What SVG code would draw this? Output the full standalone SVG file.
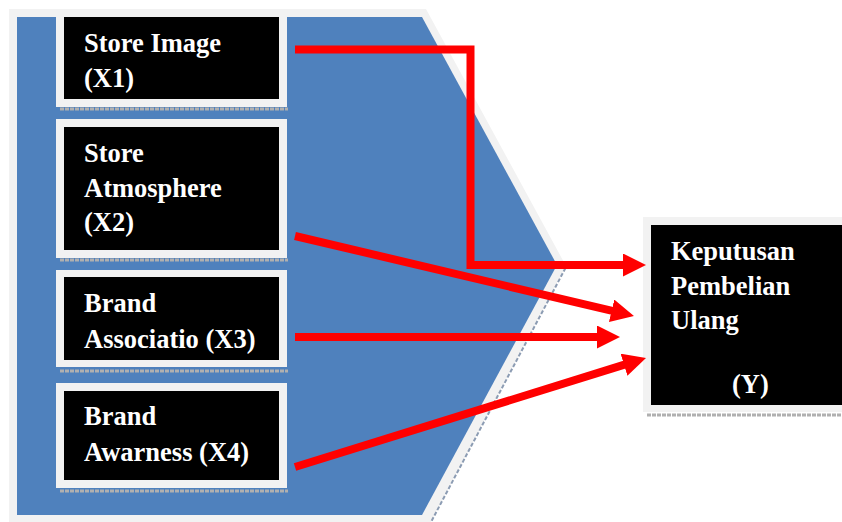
<svg xmlns="http://www.w3.org/2000/svg" width="842" height="522" viewBox="0 0 842 522">
<defs>
<style>
.lbl{font-family:"Liberation Serif","Times New Roman",serif;font-weight:bold;font-size:26.5px;fill:#ffffff}
.frame{fill:#f2f2f2}
.box{fill:#000000}
.shadow{stroke:#b0b0b0;stroke-width:3;stroke-dasharray:4 1;fill:none}
.conn{stroke:#ff0000;stroke-width:8;fill:none;marker-end:url(#ah)}
</style>
<marker id="ah" markerUnits="userSpaceOnUse" markerWidth="24" markerHeight="24" refX="3" refY="11.5" orient="auto">
<path d="M0,0 L23,11.5 L0,23 z" fill="#ff0000"/>
</marker>
</defs>
<rect width="842" height="522" fill="#ffffff"/>
<g id="chevron">
<polygon points="9,9 426,9 566,266 431,522 9,522" fill="#f2f2f2"/>
<polygon points="17,17 422,17 557,265 422,515 17,515" fill="#4f81bd"/>
<line x1="565.5" y1="268" x2="431" y2="522" stroke="#8c9cb3" stroke-width="2" stroke-dasharray="4 2"/>
</g>
<g id="x1">
<rect class="frame" x="56" y="15" width="231" height="92"/>
<rect class="box" x="64" y="17" width="215" height="82"/>
<line class="shadow" x1="60" y1="109" x2="288" y2="109"/>
<text class="lbl" x="84" y="52">Store Image</text>
<text class="lbl" x="84" y="87">(X1)</text>
</g>
<g id="x2">
<rect class="frame" x="56" y="119" width="231" height="139"/>
<rect class="box" x="64" y="127" width="215" height="123"/>
<line class="shadow" x1="60" y1="260" x2="288" y2="260"/>
<text class="lbl" x="84" y="162">Store</text>
<text class="lbl" x="84" y="197">Atmosphere</text>
<text class="lbl" x="84" y="231">(X2)</text>
</g>
<g id="x3">
<rect class="frame" x="56" y="270" width="231" height="97"/>
<rect class="box" x="64" y="277" width="215" height="83"/>
<line class="shadow" x1="60" y1="371" x2="288" y2="371"/>
<text class="lbl" x="84" y="312">Brand</text>
<text class="lbl" x="84" y="348">Associatio (X3)</text>
</g>
<g id="x4">
<rect class="frame" x="56" y="383" width="231" height="105"/>
<rect class="box" x="64" y="391" width="215" height="89"/>
<line class="shadow" x1="60" y1="491" x2="288" y2="491"/>
<text class="lbl" x="84" y="425">Brand</text>
<text class="lbl" x="84" y="461">Awarness (X4)</text>
</g>
<g id="y">
<rect class="frame" x="643" y="217" width="205" height="195"/>
<rect class="box" x="651" y="225" width="195" height="180"/>
<line class="shadow" x1="647" y1="415" x2="842" y2="415"/>
<text class="lbl" x="671" y="260">Keputusan</text>
<text class="lbl" x="671" y="295">Pembelian</text>
<text class="lbl" x="671" y="329">Ulang</text>
<text class="lbl" x="732" y="393">(Y)</text>
</g>
<g id="connectors">
<polyline class="conn" points="295,49.5 470.5,49.5 470.5,265 626,265"/>
<line class="conn" x1="295" y1="236" x2="614.5" y2="311.4"/>
<line class="conn" x1="295" y1="337" x2="600" y2="337"/>
<line class="conn" x1="295" y1="467" x2="626.9" y2="363.9"/>
</g>
</svg>
